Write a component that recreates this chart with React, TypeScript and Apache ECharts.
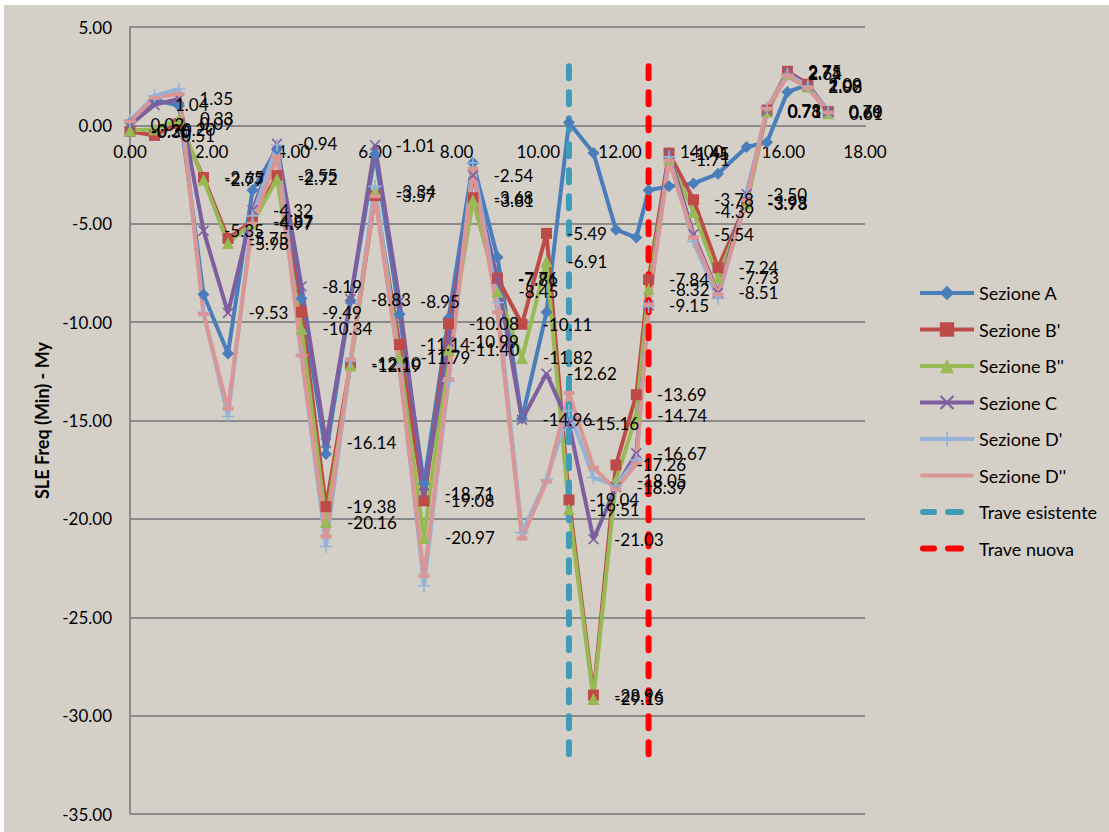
import React, { useEffect, useRef } from "react";
import * as echarts from "echarts";

// Shared abscissae of the sections
const X = [0, 0.6, 1.2, 1.8, 2.4, 3.0, 3.6, 4.2, 4.8, 5.4, 6.0, 6.6, 7.2, 7.8, 8.4, 9.0, 9.6, 10.2, 10.75, 11.35, 11.9, 12.4, 12.7, 13.2, 13.8, 14.4, 15.1, 15.6, 16.1, 16.6, 17.1];

const sezioneA = [0.15, 1.3, 1.0, -8.6, -11.6, -3.3, -1.2, -8.8, -16.7, -8.9, -1.45, -9.6, -18.2, -9.8, -1.9, -6.7, -14.9, -9.5, 0.15, -1.4, -5.3, -5.7, -3.3, -3.1, -2.95, -2.46, -1.1, -0.86, 1.7, 2.06, 0.68];
const sezioneB1 = [-0.30, -0.51, 0.09, -2.65, -5.75, -4.87, -2.55, -9.49, -19.38, -12.10, -3.57, -11.14, -19.08, -10.08, -3.68, -7.76, -10.11, -5.49, -19.04, -28.96, -17.26, -13.69, -7.84, -1.41, -3.78, -7.24, -3.93, 0.78, 2.75, 2.09, 0.70];
const sezioneB2 = [-0.26, -0.20, 0.33, -2.77, -5.98, -4.97, -2.72, -10.34, -20.16, -12.19, -3.34, -11.79, -20.97, -11.40, -3.81, -8.45, -11.82, -6.91, -19.51, -29.15, -18.05, -14.74, -8.32, -1.71, -4.39, -7.73, -3.98, 0.71, 2.64, 1.98, 0.61];
const sezioneC = [0.02, 1.04, 1.35, -5.35, -9.53, -4.32, -0.94, -8.19, -16.14, -8.83, -1.01, -8.95, -18.71, -10.99, -2.54, -7.81, -14.96, -12.62, -15.16, -21.03, -18.39, -16.67, -9.15, -1.45, -5.54, -8.51, -3.50, 0.73, 2.71, 2.00, 0.69];
const sezioneD1 = [0.25, 1.5, 1.85, -9.5, -14.8, -4.6, -1.0, -11.7, -21.4, -12.0, -3.1, -12.2, -23.4, -13.0, -1.9, -9.0, -20.7, -18.0, -14.5, -17.9, -18.3, -17.0, -9.2, -1.6, -5.9, -8.8, -3.6, 0.9, 2.6, 2.0, 0.7];
const sezioneD2 = [0.2, 1.4, 1.6, -9.6, -14.4, -5.0, -1.6, -11.7, -20.9, -11.9, -3.6, -12.4, -22.9, -12.9, -2.2, -9.5, -21.0, -18.1, -13.6, -17.4, -18.5, -17.2, -9.1, -1.8, -5.7, -8.6, -3.8, 0.85, 2.5, 1.9, 0.65];

const traveEsistenteX = 10.75;
const traveNuovaX = 12.7;
const traveY = [3, -32];

const Y_MIN = -35;
const Y_MAX = 5;
const GRID_H = 787;

const FONT = "Lato";
const X_SYMBOL = "path://M0,1 L1,0 L5,4 L9,0 L10,1 L6,5 L10,9 L9,10 L5,6 L1,10 L0,9 L4,5 Z";
const PLUS_SYMBOL = "path://M4.4,0 H5.6 V4.4 H10 V5.6 H5.6 V10 H4.4 V5.6 H0 V4.4 H4.4 Z";
// legend icons drawn in a 54x18 box (corner points fix the box)
const DASH_ICON = "path://M0,0 L0,0 M54,18 L54,18 M3,6 H14 A3,3 0 0 1 14,12 H3 A3,3 0 0 1 3,6 Z M28,6 H41 A3,3 0 0 1 41,12 H28 A3,3 0 0 1 28,6 Z";
const LINE_ICON = "path://M0,0 L0,0 M54,18 L54,18 M2,7 H52 A2,2 0 0 1 52,11 H2 A2,2 0 0 1 2,7 Z";

const pts = (ys: number[]) => ys.map((y, i) => [X[i], y]);

const labelCfg = {
  show: true,
  position: "right" as const,
  distance: 15,
  color: "#000",
  fontFamily: FONT,
  fontSize: 17,
  formatter: (p: any) => Number(p.value[1]).toFixed(2),
};

export default function App() {
  const ref = useRef<HTMLDivElement>(null);
  useEffect(() => {
    if (!ref.current) return;
    const chart = echarts.init(ref.current, undefined, { renderer: "svg" });
    const lineSeries = (name: string, data: number[], color: string, symbol: string, size: any, labels: boolean) => ({
      name,
      type: "line",
      data: pts(data),
      symbol,
      symbolSize: size,
      lineStyle: { color, width: 4 },
      itemStyle: { color },
      label: labels ? labelCfg : { show: false },
      emphasis: { disabled: true },
    });
    // place the x axis (line and labels) on y = 0
    const xAxisOffset = -(GRID_H * (0 - Y_MIN)) / (Y_MAX - Y_MIN);
    chart.setOption({
      animation: false,
      backgroundColor: "#d4d0c8",
      grid: { left: 126, top: 22, width: 735, height: GRID_H, containLabel: false, outerBoundsMode: "none" },
      legend: {
        orient: "vertical",
        left: 909,
        top: 274,
        itemWidth: 54,
        itemHeight: 18,
        itemGap: 18.5,
        lineStyle: { width: 4 },
        textStyle: { fontFamily: FONT, fontSize: 18, color: "#000" },
        data: [
          "Sezione A",
          "Sezione B'",
          "Sezione B''",
          "Sezione C",
          "Sezione D'",
          { name: "Sezione D''", icon: LINE_ICON },
          { name: "Trave esistente", icon: DASH_ICON },
          { name: "Trave nuova", icon: DASH_ICON },
        ],
      },
      xAxis: {
        type: "value",
        min: 0,
        max: 18,
        interval: 2,
        position: "bottom",
        offset: xAxisOffset,
        axisLine: { show: true, onZero: false, lineStyle: { color: "#8a8a8a", width: 2 } },
        axisTick: { show: false },
        splitLine: { show: false },
        axisLabel: {
          formatter: (v: number) => v.toFixed(2),
          fontFamily: FONT,
          fontSize: 17,
          color: "#000",
          margin: 18,
        },
      },
      yAxis: {
        type: "value",
        min: Y_MIN,
        max: Y_MAX,
        interval: 5,
        name: "SLE Freq (Min) - My",
        nameLocation: "middle",
        nameGap: 78,
        nameTextStyle: { fontFamily: FONT, fontSize: 18, fontWeight: "bold", color: "#000" },
        axisLine: { show: true, onZero: false, lineStyle: { color: "#8a8a8a", width: 2 } },
        axisTick: { show: false },
        splitLine: { show: true, lineStyle: { color: "#8a8a8a", width: 2 } },
        axisLabel: {
          formatter: (v: number) => v.toFixed(2),
          fontFamily: FONT,
          fontSize: 17,
          color: "#000",
          margin: 18,
        },
      },
      series: [
        lineSeries("Sezione A", sezioneA, "#4a7ebb", "diamond", 12, false),
        lineSeries("Sezione B'", sezioneB1, "#be4b48", "rect", 11, true),
        lineSeries("Sezione B''", sezioneB2, "#98b954", "triangle", 12, true),
        lineSeries("Sezione C", sezioneC, "#7d5fa0", X_SYMBOL, 11, true),
        lineSeries("Sezione D'", sezioneD1, "#95b3d7", PLUS_SYMBOL, 13, false),
        lineSeries("Sezione D''", sezioneD2, "#d99694", "rect", [11, 4], false),
        {
          name: "Trave esistente",
          type: "line",
          data: traveY.map((y) => [traveEsistenteX, y]),
          symbol: "none",
          lineStyle: { color: "#3f9cb8", width: 6, type: [12, 14], cap: "round" },
          itemStyle: { color: "#3f9cb8" },
          emphasis: { disabled: true },
        },
        {
          name: "Trave nuova",
          type: "line",
          data: traveY.map((y) => [traveNuovaX, y]),
          symbol: "none",
          lineStyle: { color: "#ff0000", width: 6, type: [12, 14], cap: "round" },
          itemStyle: { color: "#ff0000" },
          emphasis: { disabled: true },
        },
      ],
    });
    return () => chart.dispose();
  }, []);
  return (
    <div style={{ position: "absolute", left: 0, top: 0, width: 1109, height: 832, background: "#fff" }}>
      <div ref={ref} style={{ position: "absolute", left: 4, top: 5, width: 1105, height: 827 }} />
    </div>
  );
}
